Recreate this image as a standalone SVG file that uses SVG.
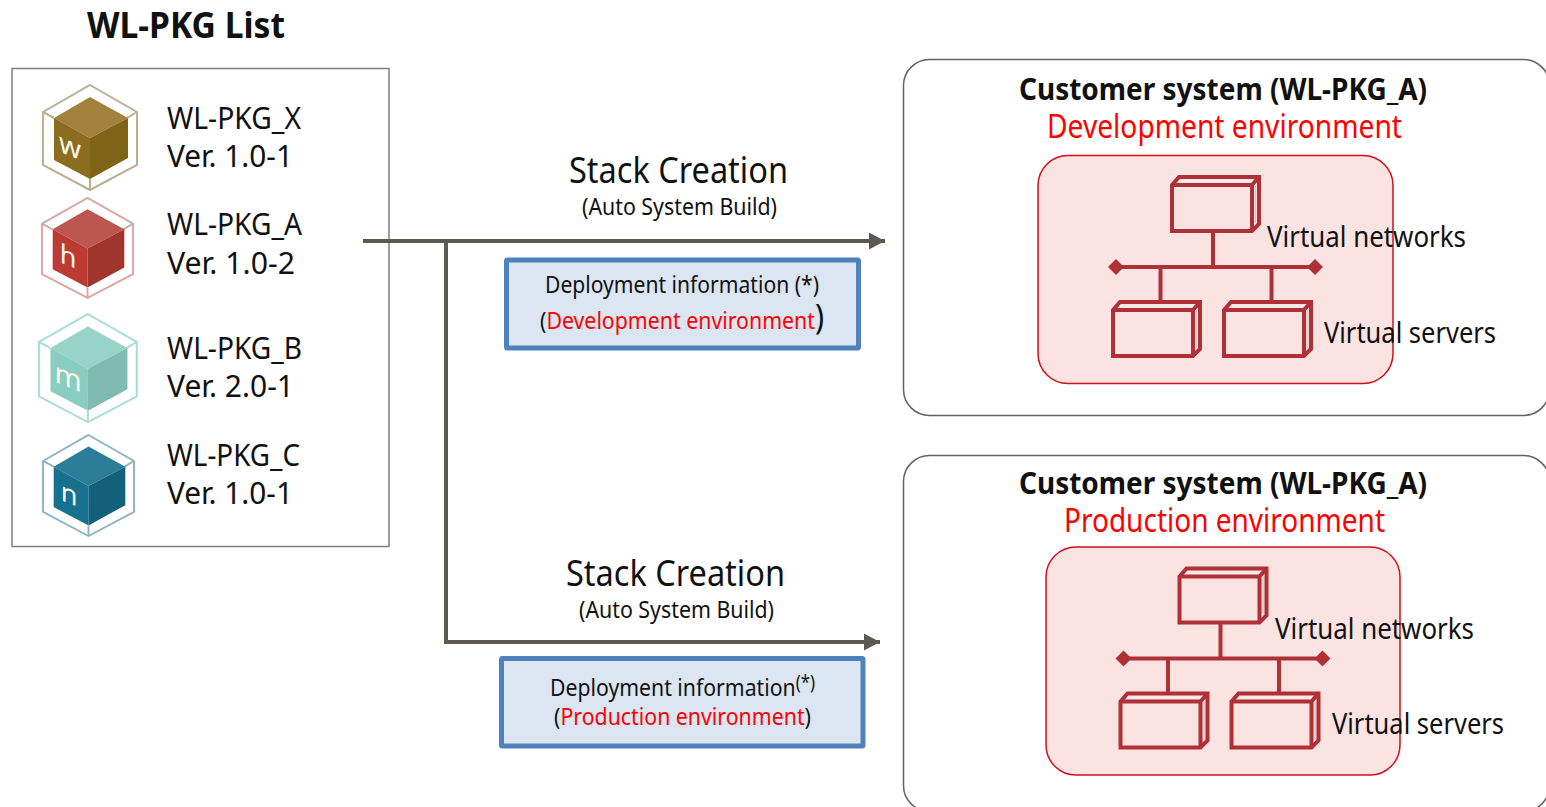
<svg xmlns="http://www.w3.org/2000/svg" width="1546" height="807" viewBox="0 0 1546 807">
<style>
text{font-family:"Noto Sans","Open Sans","DejaVu Sans",sans-serif;fill:#111}
.red{fill:#f00}
.b{font-weight:700}
.panel{fill:#fff;stroke:#5f6368;stroke-width:1.5}
.zone{fill:#fbe3e2;stroke:#d0101b;stroke-width:1.5}
.info{fill:#dce6f2;stroke:#4f81bd;stroke-width:5}
.conn{fill:none;stroke:#5a5a50;stroke-width:4}
.net{fill:none;stroke:#b03038;stroke-width:4}
.netf{fill:#b03038}
.letter{font-size:28px;fill:#fbf7ee;text-anchor:middle}
</style>
<defs>
<marker id="ah" markerUnits="userSpaceOnUse" markerWidth="18" markerHeight="18" refX="16" refY="9" orient="auto"><path d="M0 0.500L16 9L0 17.500Z" fill="#5a5a50"/></marker>
<g id="hex"><path d="M90 85L137 112V165L90 190L43 165V112ZM43 112L54 118M137 112L127 118M90 190V179" fill="none" stroke-width="2"/></g>
<path id="ctop" d="M90 97L128 118L90 138L54 118Z"/>
<path id="cleft" d="M54 118L90 138V179L54 160Z"/>
<path id="cright" d="M128 118L90 138V179L128 158Z"/>
<g id="srv">
<path d="M0 9L7 1H87V48L80 55H0Z" fill="none" stroke="#b03038" stroke-width="4"/>
<path d="M0 9H80V55M80 9L87 1" fill="none" stroke="#b03038" stroke-width="4"/>
<path d="M83.500 9V47" stroke="#ccc" stroke-width="1.5"/>
<path d="M7 5H80" stroke="#eee" stroke-width="1.5"/>
</g>
<g id="network">
<use href="#srv" x="1172" y="176"/>
<use href="#srv" x="1113" y="301"/>
<use href="#srv" x="1224" y="301"/>
<path class="net" d="M1116 267H1315M1213 232V267M1160.500 267V302M1271.500 267V302"/>
<path class="netf" d="M1116 259L1124 267L1116 275L1108 267ZM1315 259L1323 267L1315 275L1307 267Z"/>
</g>
</defs>

<text id="title" class="b" x="87" y="38" font-size="35" textLength="198" lengthAdjust="spacingAndGlyphs">WL-PKG List</text>

<g id="pkg-list">
<rect x="12" y="68.500" width="377" height="478" fill="#fff" stroke="#7f7f7f" stroke-width="1.500"/>
<text x="167" y="129" font-size="31" textLength="134" lengthAdjust="spacingAndGlyphs">WL-PKG_X</text>
<text x="167" y="167" font-size="31" textLength="126" lengthAdjust="spacingAndGlyphs">Ver. 1.0-1</text>
<text x="167" y="235" font-size="31" textLength="135" lengthAdjust="spacingAndGlyphs">WL-PKG_A</text>
<text x="167" y="274" font-size="31" textLength="128" lengthAdjust="spacingAndGlyphs">Ver. 1.0-2</text>
<text x="167" y="359" font-size="31" textLength="135" lengthAdjust="spacingAndGlyphs">WL-PKG_B</text>
<text x="167" y="397" font-size="31" textLength="127" lengthAdjust="spacingAndGlyphs">Ver. 2.0-1</text>
<text x="167" y="466" font-size="31" textLength="133" lengthAdjust="spacingAndGlyphs">WL-PKG_C</text>
<text x="167" y="504" font-size="31" textLength="126" lengthAdjust="spacingAndGlyphs">Ver. 1.0-1</text>
</g>

<g id="icon-x">
<use href="#hex" stroke="#bcae8e"/>
<use href="#ctop" fill="#a1813c"/><use href="#cleft" fill="#8c6d20"/><use href="#cright" fill="#7f6418"/>
<text class="letter" transform="translate(70 156) skewY(22)">w</text>
</g>
<g id="icon-a" transform="translate(0.400 117) scale(0.968 0.952)">
<use href="#hex" stroke="#d9a8a6"/>
<use href="#ctop" fill="#bc5750"/><use href="#cleft" fill="#bb3b34"/><use href="#cright" fill="#a0352e"/>
<text class="letter" transform="translate(70 156) skewY(22)">h</text>
</g>
<g id="icon-b" transform="translate(-5.700 226.500) scale(1.040 1.030)">
<use href="#hex" stroke="#a8e0d4"/>
<use href="#ctop" fill="#97d4c7"/><use href="#cleft" fill="#88cdbd"/><use href="#cright" fill="#7fbbae"/>
<text class="letter" transform="translate(71 156) skewY(22)">m</text>
</g>
<g id="icon-c" transform="translate(1.400 353.200) scale(0.968 0.962)">
<use href="#hex" stroke="#8fb4c2"/>
<use href="#ctop" fill="#2b7d98"/><use href="#cleft" fill="#17708e"/><use href="#cright" fill="#12607c"/>
<text class="letter" transform="translate(70 156) skewY(22)">n</text>
</g>

<g id="connectors">
<path class="conn" marker-end="url(#ah)" d="M363 241H885"/>
<path class="conn" marker-end="url(#ah)" d="M446 241V642H880"/>
</g>

<g id="stack-1">
<text x="569" y="183" font-size="36" textLength="219" lengthAdjust="spacingAndGlyphs">Stack Creation</text>
<text x="582" y="215" font-size="23" textLength="195" lengthAdjust="spacingAndGlyphs">(Auto System Build)</text>
</g>
<g id="info-1">
<rect class="info" x="506.500" y="260" width="352" height="88" rx="1"/>
<text x="545" y="293" font-size="24" textLength="274" lengthAdjust="spacingAndGlyphs">Deployment information (*)</text>
<text x="540" y="329" font-size="24" textLength="284" lengthAdjust="spacingAndGlyphs">(<tspan class="red">Development environment</tspan><tspan font-size="34">)</tspan></text>
</g>

<g id="stack-2">
<text x="566" y="586" font-size="36" textLength="219" lengthAdjust="spacingAndGlyphs">Stack Creation</text>
<text x="579" y="618" font-size="23" textLength="195" lengthAdjust="spacingAndGlyphs">(Auto System Build)</text>
</g>
<g id="info-2">
<rect class="info" x="501.500" y="658.500" width="361.500" height="87.500" rx="1"/>
<text x="550" y="696" font-size="24" textLength="265" lengthAdjust="spacingAndGlyphs">Deployment information<tspan font-size="19" dy="-7">(*)</tspan></text>
<text x="554" y="725" font-size="24" textLength="257" lengthAdjust="spacingAndGlyphs">(<tspan class="red">Production environment</tspan>)</text>
</g>

<g id="system-dev">
<rect class="panel" x="903.500" y="59.500" width="646" height="356" rx="26"/>
<text class="b" x="1019" y="100" font-size="31" textLength="408" lengthAdjust="spacingAndGlyphs">Customer system (WL-PKG_A)</text>
<text class="red" x="1047" y="138" font-size="32" textLength="355" lengthAdjust="spacingAndGlyphs">Development environment</text>
<rect class="zone" x="1038" y="155.500" width="355" height="228" rx="30"/>
<use href="#network"/>
<text x="1267" y="247" font-size="29" textLength="199" lengthAdjust="spacingAndGlyphs">Virtual networks</text>
<text x="1324" y="343" font-size="29" textLength="172" lengthAdjust="spacingAndGlyphs">Virtual servers</text>
</g>

<g id="system-prod">
<rect class="panel" x="903.500" y="455.500" width="646" height="356" rx="26"/>
<text class="b" x="1019" y="494" font-size="31" textLength="408" lengthAdjust="spacingAndGlyphs">Customer system (WL-PKG_A)</text>
<text class="red" x="1064" y="532" font-size="32" textLength="321" lengthAdjust="spacingAndGlyphs">Production environment</text>
<rect class="zone" x="1046" y="547" width="354" height="228" rx="30"/>
<use href="#network" transform="translate(7.500 391.500)"/>
<text x="1275" y="639" font-size="29" textLength="199" lengthAdjust="spacingAndGlyphs">Virtual networks</text>
<text x="1332" y="734" font-size="29" textLength="172" lengthAdjust="spacingAndGlyphs">Virtual servers</text>
</g>
</svg>
